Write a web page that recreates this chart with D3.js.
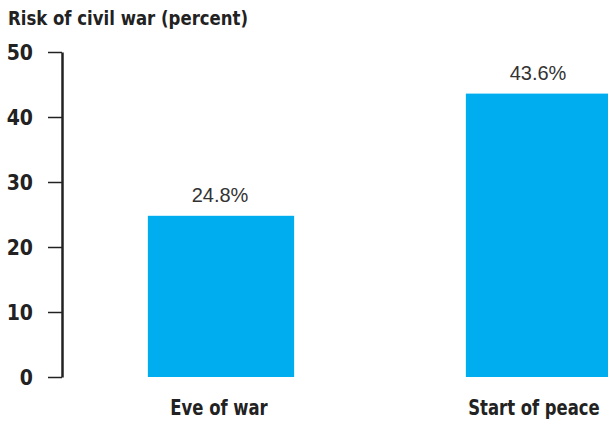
<!DOCTYPE html>
<html><head><meta charset="utf-8">
<script src="https://cdn.jsdelivr.net/npm/d3@7"></script>
<style>
body{margin:0;background:#fff;}
.cond{font-family:"Liberation Sans Narrow","DejaVu Sans Condensed","Roboto Condensed",sans-serif;font-weight:bold;font-stretch:condensed;}
</style></head>
<body><svg id="c" width="608" height="422"></svg>
<script>
const categories = ["Eve of war", "Start of peace"];
const values = [24.8, 43.6];
const valueLabels = ["24.8%", "43.6%"];
const yTicks = [0, 10, 20, 30, 40, 50];
const title = "Risk of civil war (percent)";

const svg = d3.select("#c");
const y = d3.scaleLinear().domain([0, 50]).range([377, 52]);
const x = d3.scaleBand().domain(categories).range([62, 698]).paddingInner(0.54).paddingOuter(0.27);

svg.append("text").attr("class","cond")
  .attr("transform", "translate(8,25) scale(0.92,1)")
  .attr("font-size", 20).attr("fill", "#222").text(title);

// bars
svg.selectAll("rect.bar").data(values).join("rect").attr("class","bar")
  .attr("x", (d,i) => x(categories[i])).attr("width", x.bandwidth())
  .attr("y", d => y(d)).attr("height", d => y(0) - y(d)).attr("fill", "#00AEEF");

// value labels
svg.selectAll("text.val").data(values).join("text").attr("class","val")
  .attr("x", (d,i) => x(categories[i]) + x.bandwidth()/2 - 1).attr("y", d => y(d) - 14)
  .attr("text-anchor","middle").attr("font-family","'Liberation Sans', Arial, sans-serif")
  .attr("font-size", 20).attr("fill","#333").text((d,i) => valueLabels[i]);

// category labels
svg.selectAll("text.cat").data(categories).join("text").attr("class","cond cat")
  .attr("transform", (d,i) => `translate(${x(d) + x.bandwidth()/2 - (i ? 5 : 2)},415) scale(0.87,1)`)
  .attr("text-anchor","middle").attr("font-size", 21).attr("fill","#222").text(d => d);

// y axis
const ax = svg.append("g").attr("transform","translate(62,0)")
  .call(d3.axisLeft(y).tickValues(yTicks).tickSize(14).tickSizeOuter(0).tickPadding(15));
ax.attr("font-family", null);
ax.select(".domain").attr("stroke","#222").attr("stroke-width",2.5);
ax.selectAll(".tick line").attr("stroke","#222").attr("stroke-width",1.5);
ax.selectAll(".tick text").attr("class","cond").attr("font-size",21).attr("fill","#222")
  .attr("dy","0.36em");
</script></body></html>
